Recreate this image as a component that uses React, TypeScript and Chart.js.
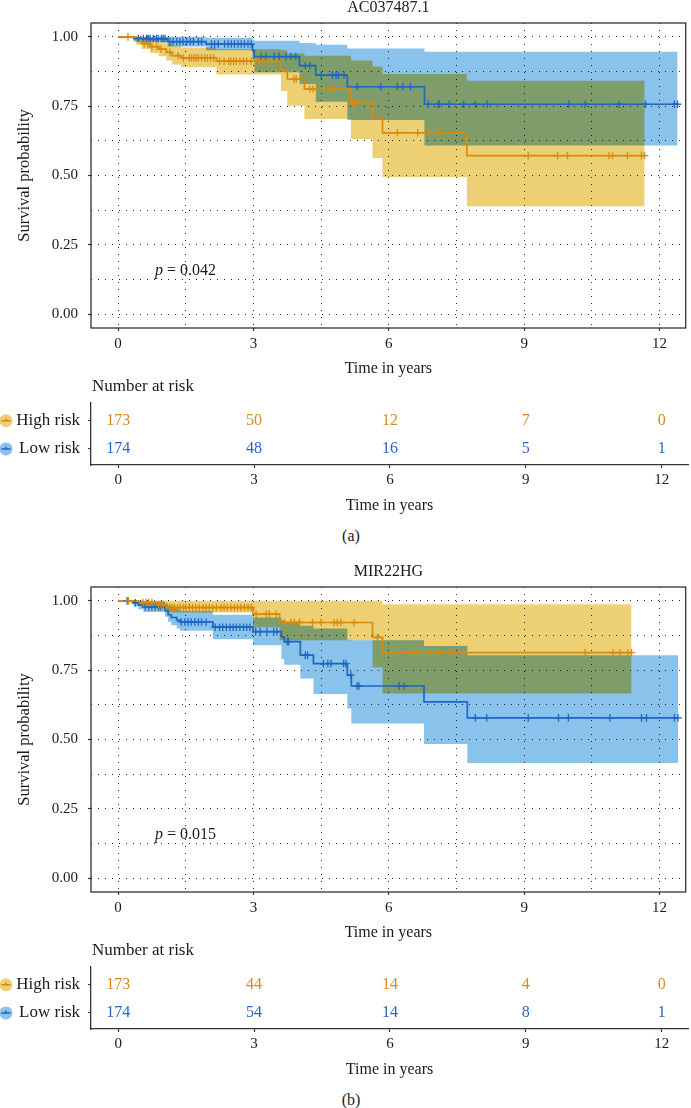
import React, { useEffect, useRef } from 'react';
import { Chart, registerables } from 'chart.js';

Chart.register(...registerables);

// ---------- shared axis data ----------
const X_MIN = -0.6;
const X_MAX = 12.58;
const X_MAJOR = [0, 3, 6, 9, 12];
const X_GRID = [0, 1.5, 3, 4.5, 6, 7.5, 9, 10.5, 12];
const Y_MAJOR = [0, 0.25, 0.5, 0.75, 1];
const Y_GRID = [0, 0.125, 0.25, 0.375, 0.5, 0.625, 0.75, 0.875, 1];
const RISK_TIMES = [0, 3, 6, 9, 12];
const GROUPS = ['High risk', 'Low risk'];

// ---------- panel (a): AC037487.1 ----------
const A_TITLE = 'AC037487.1';
const A_PVAL = '0.042';
const A_HIGH_T = [0, 0.4, 0.52, 0.71, 0.9, 1.07, 1.2, 1.4, 2.18, 3.61, 3.75, 4.13, 5.16, 5.64, 5.86, 7.73];
const A_HIGH_S = [1, 0.988, 0.976, 0.965, 0.956, 0.944, 0.932, 0.924, 0.912, 0.878, 0.848, 0.812, 0.762, 0.71, 0.654, 0.572];
const A_HIGH_LO = [1, 0.972, 0.956, 0.942, 0.93, 0.915, 0.9, 0.89, 0.864, 0.805, 0.752, 0.704, 0.632, 0.563, 0.494, 0.389];
const A_HIGH_HI = [1, 1, 0.998, 0.992, 0.985, 0.976, 0.968, 0.962, 0.955, 0.952, 0.94, 0.932, 0.915, 0.893, 0.866, 0.842];
const A_HIGH_END = 11.67;
const A_HIGH_CENS = [0.22, 0.58, 0.66, 0.75, 0.86, 0.95, 1.15, 1.33, 1.45, 1.58, 1.63, 1.68, 1.73, 1.78, 1.85, 1.92, 1.98, 2.05, 2.12, 2.25, 2.35, 2.45, 2.5, 2.56, 2.62, 2.7, 2.78, 2.85, 2.95, 3.05, 3.12, 3.2, 3.3, 3.4, 3.5, 3.9, 3.95, 4.25, 4.32, 4.75, 5.2, 5.25, 5.3, 6.19, 6.64, 6.89, 7.11, 9.09, 9.74, 9.96, 10.88, 10.96, 11.29, 11.6, 11.67];
const A_LOW_T = [0, 0.35, 1.1, 1.95, 2.98, 3.02, 4.02, 4.38, 5.08, 6.79];
const A_LOW_S = [1, 0.994, 0.983, 0.974, 0.951, 0.929, 0.896, 0.862, 0.82, 0.757];
const A_LOW_LO = [1, 0.982, 0.965, 0.952, 0.922, 0.872, 0.83, 0.766, 0.7, 0.608];
const A_LOW_HI = [1, 1, 1, 0.997, 0.99, 0.986, 0.978, 0.972, 0.958, 0.946];
const A_LOW_END = 12.4;
const A_LOW_CENS = [0.45, 0.56, 0.63, 0.67, 0.71, 0.78, 0.85, 0.89, 0.96, 1.0, 1.04, 1.15, 1.22, 1.3, 1.37, 1.44, 1.52, 1.6, 1.67, 1.78, 1.85, 2.07, 2.14, 2.22, 2.36, 2.44, 2.51, 2.58, 2.66, 2.73, 2.8, 2.88, 2.95, 3.17, 3.28, 3.46, 3.57, 3.72, 3.83, 3.94, 4.15, 4.25, 4.5, 4.75, 4.83, 4.88, 5.01, 5.3, 5.82, 6.19, 6.31, 6.48, 6.87, 7.09, 7.12, 7.34, 7.66, 7.92, 8.18, 9.99, 10.35, 11.1, 11.69, 12.33, 12.4];
const A_RISK_HIGH = [173, 50, 12, 7, 0];
const A_RISK_LOW = [174, 48, 16, 5, 1];

// ---------- panel (b): MIR22HG ----------
const B_TITLE = 'MIR22HG';
const B_PVAL = '0.015';
const B_HIGH_T = [0, 0.45, 0.8, 1.07, 2.99, 3.58, 5.64, 5.86];
const B_HIGH_S = [1, 0.994, 0.987, 0.976, 0.952, 0.922, 0.868, 0.813];
const B_HIGH_LO = [1, 0.982, 0.972, 0.958, 0.905, 0.858, 0.76, 0.666];
const B_HIGH_HI = [1, 1, 1, 1, 1, 1, 1, 0.988];
const B_HIGH_END = 11.38;
const B_HIGH_CENS = [0.23, 0.55, 0.62, 0.68, 0.75, 0.9, 0.95, 1.0, 1.15, 1.2, 1.25, 1.32, 1.38, 1.45, 1.5, 1.58, 1.65, 1.72, 1.8, 1.88, 1.95, 2.02, 2.1, 2.18, 2.28, 2.35, 2.42, 2.5, 2.58, 2.65, 2.72, 2.8, 2.88, 2.95, 3.06, 3.28, 3.35, 3.5, 3.69, 3.83, 3.91, 4.02, 4.31, 4.5, 4.79, 4.86, 4.94, 5.23, 5.75, 6.23, 6.48, 6.63, 6.89, 7.11, 7.37, 7.66, 10.35, 10.97, 11.12, 11.3, 11.38];
const B_LOW_T = [0, 0.34, 0.45, 0.56, 1.04, 1.11, 1.18, 1.3, 1.37, 2.1, 2.99, 3.62, 3.68, 4.04, 4.33, 5.08, 5.17, 6.78, 7.74];
const B_LOW_S = [1, 0.993, 0.985, 0.978, 0.965, 0.95, 0.94, 0.93, 0.924, 0.905, 0.889, 0.87, 0.853, 0.804, 0.774, 0.732, 0.693, 0.636, 0.578];
const B_LOW_LO = [1, 0.98, 0.97, 0.96, 0.943, 0.925, 0.912, 0.9, 0.892, 0.862, 0.84, 0.79, 0.77, 0.72, 0.664, 0.612, 0.558, 0.484, 0.415];
const B_LOW_HI = [1, 1, 1, 0.998, 0.99, 0.982, 0.975, 0.968, 0.963, 0.95, 0.94, 0.93, 0.925, 0.91, 0.9, 0.86, 0.858, 0.837, 0.804];
const B_LOW_END = 12.41;
const B_LOW_CENS = [0.2, 0.38, 0.6, 0.68, 0.75, 0.82, 0.9, 0.95, 1.4, 1.48, 1.55, 1.62, 1.7, 1.78, 1.85, 1.95, 2.15, 2.25, 2.32, 2.4, 2.48, 2.55, 2.62, 2.7, 2.78, 2.85, 2.92, 3.05, 3.15, 3.3, 3.45, 3.52, 3.75, 3.78, 4.15, 4.2, 4.55, 4.65, 4.72, 5.0, 5.05, 5.16, 5.3, 5.34, 6.23, 6.34, 7.92, 8.17, 9.09, 9.76, 9.98, 10.9, 11.6, 11.71, 12.33, 12.41];
const B_RISK_HIGH = [173, 44, 14, 4, 0];
const B_RISK_LOW = [174, 54, 14, 8, 1];

// ---------- styles ----------
const FONT = "'Liberation Serif', 'Times New Roman', serif";
const TEXT = '#1a1a1a';
const AXIS = '#333333';
const ORANGE = '#D88A0E';
const BLUE = '#1F66C1';
const ORANGE_TXT = '#D98A1F';
const BLUE_TXT = '#2868C2';
const YELLOW_BAND = '#EDCF74';
const BLUE_BAND = '#89C2EB';

function stepAt(ts: number[], ss: number[], t: number) {
  let v = ss[0];
  for (let i = 0; i < ts.length; i++) if (ts[i] <= t) v = ss[i];
  return v;
}
function stepPts(ts: number[], vs: number[], end: number) {
  return ts.map((t, i) => ({ x: t, y: vs[i] })).concat([{ x: end, y: vs[vs.length - 1] }]);
}
function censPts(ts: number[], ss: number[], cs: number[]) {
  return cs.map((c) => ({ x: c, y: stepAt(ts, ss, c) }));
}

type Panel = {
  title: string; pval: string;
  hT: number[]; hS: number[]; hLo: number[]; hHi: number[]; hEnd: number; hC: number[];
  lT: number[]; lS: number[]; lLo: number[]; lHi: number[]; lEnd: number; lC: number[];
  rHigh: number[]; rLow: number[];
};

const PANEL_A: Panel = {
  title: A_TITLE, pval: A_PVAL,
  hT: A_HIGH_T, hS: A_HIGH_S, hLo: A_HIGH_LO, hHi: A_HIGH_HI, hEnd: A_HIGH_END, hC: A_HIGH_CENS,
  lT: A_LOW_T, lS: A_LOW_S, lLo: A_LOW_LO, lHi: A_LOW_HI, lEnd: A_LOW_END, lC: A_LOW_CENS,
  rHigh: A_RISK_HIGH, rLow: A_RISK_LOW,
};
const PANEL_B: Panel = {
  title: B_TITLE, pval: B_PVAL,
  hT: B_HIGH_T, hS: B_HIGH_S, hLo: B_HIGH_LO, hHi: B_HIGH_HI, hEnd: B_HIGH_END, hC: B_HIGH_CENS,
  lT: B_LOW_T, lS: B_LOW_S, lLo: B_LOW_LO, lHi: B_LOW_HI, lEnd: B_LOW_END, lC: B_LOW_CENS,
  rHigh: B_RISK_HIGH, rLow: B_RISK_LOW,
};

const KM_H = 380;
const RISK_TOP = 376;
const RISK_H = 150;

const bandBlend = {
  id: 'bandBlend',
  beforeDatasetsDraw(chart: any) {
    chart.ctx.save();
    chart.ctx.globalCompositeOperation = 'multiply';
  },
  beforeDatasetDraw(chart: any, args: any) {
    const lbl = String(chart.data.datasets[args.index].label || '');
    chart.ctx.globalCompositeOperation = lbl.endsWith('band') ? 'multiply' : 'source-over';
  },
  afterDatasetsDraw(chart: any) {
    chart.ctx.restore();
  },
};

function kmDecor(p: Panel) {
  return {
    id: 'kmDecor',
    afterDraw(chart: any) {
      const { ctx, chartArea: a, scales } = chart;
      ctx.save();
      ctx.strokeStyle = AXIS;
      ctx.lineWidth = 1.3;
      ctx.strokeRect(a.left, a.top, a.right - a.left, a.bottom - a.top);
      ctx.fillStyle = TEXT;
      ctx.textBaseline = 'middle';
      ctx.textAlign = 'center';
      ctx.font = `16px ${FONT}`;
      ctx.fillText(p.title, (a.left + a.right) / 2, 8);
      const px = scales.x.getPixelForValue(0.82);
      const py = scales.y.getPixelForValue(0.155);
      ctx.textAlign = 'left';
      ctx.font = `italic 16px ${FONT}`;
      ctx.fillText('p', px, py);
      const w = ctx.measureText('p').width;
      ctx.font = `16px ${FONT}`;
      ctx.fillText(` = ${p.pval}`, px + w, py);
      ctx.restore();
    },
  };
}

function kmConfig(p: Panel): any {
  const line = (data: any, color: string, label: string) => ({
    label, data, stepped: true, borderColor: color, borderWidth: 1.7, pointRadius: 0, fill: false,
  });
  const band = (data: any, color: string, label: string, fill: any) => ({
    label, data, stepped: true, borderWidth: 0, borderColor: 'rgba(0,0,0,0)', pointRadius: 0,
    fill, backgroundColor: color,
  });
  const cens = (data: any, color: string, label: string) => ({
    label, data, showLine: false, pointStyle: 'cross', pointRadius: 3.8, pointBorderWidth: 1.3,
    pointBorderColor: color, pointBackgroundColor: color, borderColor: color,
  });
  return {
    type: 'line',
    data: {
      datasets: [
        cens(censPts(p.hT, p.hS, p.hC), ORANGE, 'high censor'),
        cens(censPts(p.lT, p.lS, p.lC), BLUE, 'low censor'),
        line(stepPts(p.hT, p.hS, p.hEnd), ORANGE, 'High risk'),
        line(stepPts(p.lT, p.lS, p.lEnd), BLUE, 'Low risk'),
        band(stepPts(p.hT, p.hHi, p.hEnd), YELLOW_BAND, 'high upper band', '+1'),
        band(stepPts(p.hT, p.hLo, p.hEnd), YELLOW_BAND, 'high lower band', false),
        band(stepPts(p.lT, p.lHi, p.lEnd), BLUE_BAND, 'low upper band', '+1'),
        band(stepPts(p.lT, p.lLo, p.lEnd), BLUE_BAND, 'low lower band', false),
      ],
    },
    options: {
      responsive: false,
      animation: false,
      events: [],
      layout: { padding: { top: 23, right: 3, left: 0, bottom: 0 } },
      plugins: { legend: { display: false }, tooltip: { enabled: false }, title: { display: false } },
      scales: {
        x: {
          type: 'linear', min: X_MIN, max: X_MAX,
          afterBuildTicks: (s: any) => { s.ticks = X_GRID.map((v) => ({ value: v })); },
          afterFit: (s: any) => { s.height = 52; },
          ticks: {
            autoSkip: false, maxRotation: 0, padding: 4.5, color: TEXT,
            font: { family: FONT, size: 15 },
            callback: (v: any) => (X_MAJOR.includes(v) ? String(v) : ''),
          },
          grid: {
            color: 'rgba(0,0,0,0.85)', lineWidth: 1, drawTicks: true, tickLength: 3, tickWidth: 1.2,
            tickColor: (c: any) => (c.tick && X_MAJOR.includes(c.tick.value) ? AXIS : 'rgba(0,0,0,0)'),
          },
          border: { display: false, dash: [1, 6] },
          title: { display: true, text: 'Time in years', color: TEXT, font: { family: FONT, size: 16 }, padding: { top: 0, bottom: 2 } },
        },
        y: {
          type: 'linear', min: -0.05, max: 1.05,
          afterBuildTicks: (s: any) => { s.ticks = Y_GRID.map((v) => ({ value: v })); },
          afterFit: (s: any) => { s.width = 91; },
          ticks: {
            autoSkip: false, padding: 10, color: TEXT,
            font: { family: FONT, size: 15 },
            callback: (v: any) => (Y_MAJOR.includes(v) ? Number(v).toFixed(2) : ''),
          },
          grid: {
            color: 'rgba(0,0,0,0.85)', lineWidth: 1, drawTicks: true, tickLength: 3, tickWidth: 1.2,
            tickColor: (c: any) => (c.tick && Y_MAJOR.includes(c.tick.value) ? AXIS : 'rgba(0,0,0,0)'),
          },
          border: { display: false, dash: [1, 6] },
          title: { display: true, text: 'Survival probability', color: TEXT, font: { family: FONT, size: 16.5 }, padding: { top: 15, bottom: 0 } },
        },
      },
    },
    plugins: [bandBlend, kmDecor(p)],
  };
}

function riskDecor(p: Panel) {
  return {
    id: 'riskDecor',
    afterDraw(chart: any) {
      const { ctx, chartArea: a, scales } = chart;
      ctx.save();
      ctx.textBaseline = 'middle';
      ctx.textAlign = 'left';
      ctx.fillStyle = TEXT;
      ctx.font = `17px ${FONT}`;
      ctx.fillText('Number at risk', a.left + 1, 11);
      const rows = [
        { vals: p.rHigh, color: ORANGE_TXT, line: ORANGE, band: YELLOW_BAND },
        { vals: p.rLow, color: BLUE_TXT, line: BLUE, band: BLUE_BAND },
      ];
      ctx.textAlign = 'center';
      ctx.font = `16px ${FONT}`;
      rows.forEach((r, di) => {
        const meta = chart.getDatasetMeta(di);
        ctx.fillStyle = r.color;
        meta.data.forEach((pt: any, i: number) => {
          ctx.fillText(String(r.vals[i]), pt.x, pt.y);
        });
        const cy = scales.y.getPixelForValue(di === 0 ? 2 : 1);
        ctx.beginPath();
        ctx.arc(6, cy, 6.5, 0, Math.PI * 2);
        ctx.fillStyle = r.band;
        ctx.fill();
        ctx.strokeStyle = r.line;
        ctx.lineWidth = 1.4;
        ctx.beginPath();
        ctx.moveTo(1.5, cy); ctx.lineTo(10.5, cy);
        ctx.moveTo(6, cy - 2.5); ctx.lineTo(6, cy);
        ctx.stroke();
      });
      ctx.restore();
    },
  };
}

function riskConfig(p: Panel): any {
  return {
    type: 'line',
    data: {
      datasets: [
        { label: GROUPS[0], data: RISK_TIMES.map((t) => ({ x: t, y: 2 })), showLine: false, pointRadius: 0 },
        { label: GROUPS[1], data: RISK_TIMES.map((t) => ({ x: t, y: 1 })), showLine: false, pointRadius: 0 },
      ],
    },
    options: {
      responsive: false,
      animation: false,
      events: [],
      layout: { padding: { top: 27, right: 3, left: 0, bottom: 0 } },
      plugins: { legend: { display: false }, tooltip: { enabled: false }, title: { display: false } },
      scales: {
        x: {
          type: 'linear', min: X_MIN, max: X_MAX,
          afterBuildTicks: (s: any) => { s.ticks = X_MAJOR.map((v) => ({ value: v })); },
          afterFit: (s: any) => { s.height = 61; },
          ticks: { autoSkip: false, maxRotation: 0, padding: 3, color: TEXT, font: { family: FONT, size: 15 } },
          grid: { drawOnChartArea: false, drawTicks: true, tickLength: 3, tickWidth: 1.2, tickColor: AXIS },
          border: { display: true, color: AXIS, width: 1.3 },
          title: { display: true, text: 'Time in years', color: TEXT, font: { family: FONT, size: 16 }, padding: { top: 0, bottom: 11 } },
        },
        y: {
          type: 'linear', min: 0.43, max: 2.63,
          afterBuildTicks: (s: any) => { s.ticks = [1, 2].map((v) => ({ value: v })); },
          afterFit: (s: any) => { s.width = 91; },
          ticks: {
            autoSkip: false, padding: 8, color: TEXT, font: { family: FONT, size: 17 },
            callback: (v: any) => (v === 2 ? GROUPS[0] : v === 1 ? GROUPS[1] : ''),
          },
          grid: { drawOnChartArea: false, drawTicks: true, tickLength: 3, tickWidth: 1.2, tickColor: AXIS },
          border: { display: true, color: AXIS, width: 1.3 },
        },
      },
    },
    plugins: [riskDecor(p)],
  };
}

function PanelView({ top, panel, caption, captionTop }: { top: number; panel: Panel; caption: string; captionTop: number }) {
  const kmRef = useRef<HTMLCanvasElement>(null);
  const riskRef = useRef<HTMLCanvasElement>(null);
  useEffect(() => {
    const c1 = new Chart(kmRef.current as HTMLCanvasElement, kmConfig(panel));
    const c2 = new Chart(riskRef.current as HTMLCanvasElement, riskConfig(panel));
    return () => { c1.destroy(); c2.destroy(); };
  }, [panel]);
  return (
    <>
      <canvas ref={kmRef} width={691} height={KM_H} style={{ position: 'absolute', left: 0, top, width: 691, height: KM_H }} />
      <canvas ref={riskRef} width={691} height={RISK_H} style={{ position: 'absolute', left: 0, top: top + RISK_TOP, width: 691, height: RISK_H }} />
      <div style={{ position: 'absolute', left: 301, top: captionTop - 10, width: 100, textAlign: 'center', fontFamily: FONT, fontSize: 16, lineHeight: '20px', color: TEXT }}>{caption}</div>
    </>
  );
}

export default function App() {
  return (
    <div style={{ position: 'absolute', left: 0, top: 0, width: 691, height: 1108, background: '#fff', overflow: 'hidden' }}>
      <PanelView top={0} panel={PANEL_A} caption="(a)" captionTop={536} />
      <PanelView top={564} panel={PANEL_B} caption="(b)" captionTop={1100} />
    </div>
  );
}
